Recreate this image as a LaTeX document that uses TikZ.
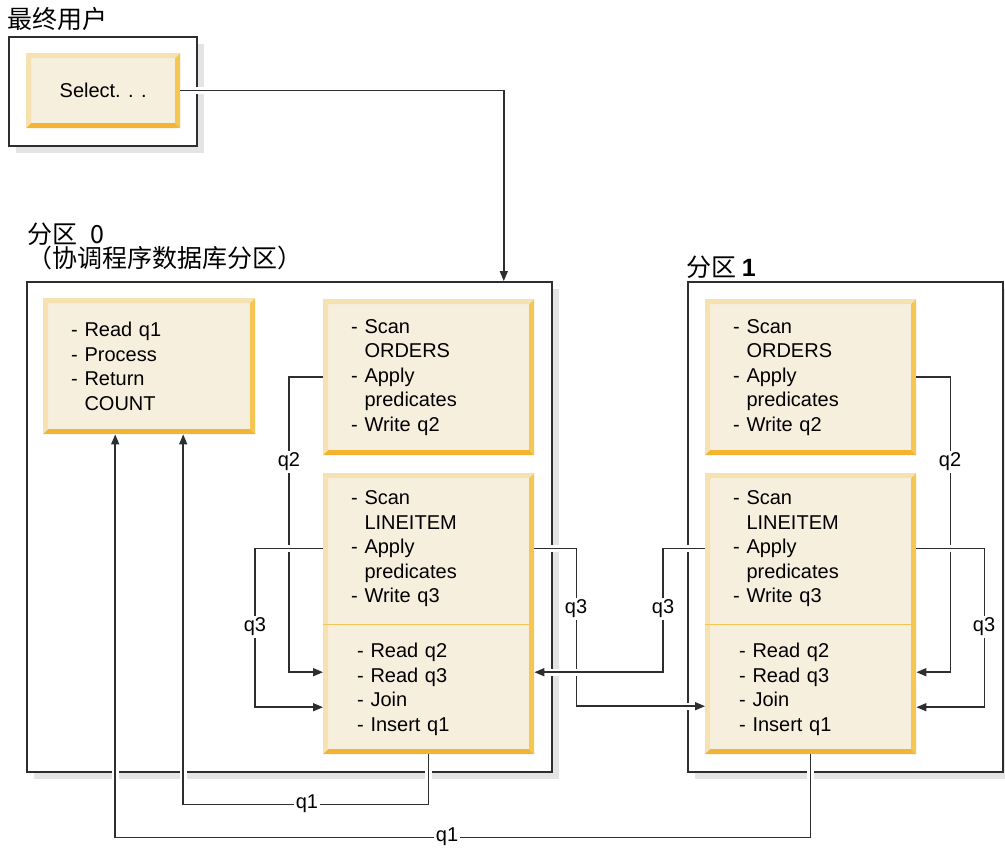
\documentclass[tikz,border=0pt]{standalone}
\usepackage{fontspec}
\setmainfont{Liberation Sans}
\newfontfamily\cjk{Noto Sans CJK SC}
\usepackage{tikz}
\usetikzlibrary{arrows.meta,positioning,shadows}

\definecolor{boxfill}{HTML}{F7EFDE}
\definecolor{bevlight}{HTML}{F6E2B0}
\definecolor{bevright}{HTML}{F5C652}
\definecolor{bevdark}{HTML}{F2B432}
\definecolor{shadowgray}{HTML}{E4E4E4}
\definecolor{linegray}{HTML}{2E2E2E}

\newcommand{\opbevel}{%
  \fill[bevlight] (path picture bounding box.south west) -- (path picture bounding box.north west)
    -- (path picture bounding box.north east) -- ([shift={(-5pt,-5pt)}]path picture bounding box.north east)
    -- ([shift={(5pt,-5pt)}]path picture bounding box.north west) -- ([shift={(5pt,5pt)}]path picture bounding box.south west) -- cycle;
  \fill[bevright] (path picture bounding box.north east) -- (path picture bounding box.south east)
    -- ([shift={(-5pt,5pt)}]path picture bounding box.south east) -- ([shift={(-5pt,-5pt)}]path picture bounding box.north east) -- cycle;
  \fill[bevdark] (path picture bounding box.south west) -- (path picture bounding box.south east)
    -- ([shift={(-5pt,5pt)}]path picture bounding box.south east) -- ([shift={(5pt,5pt)}]path picture bounding box.south west) -- cycle;
}

\begin{document}
\begin{tikzpicture}[
    x=1pt, y=-1pt,
    opbox/.style={anchor=north west, fill=boxfill, inner ysep=0pt, inner xsep=28pt, align=left, path picture={\opbevel}, font=\fontsize{20pt}{24.5pt}\selectfont},
    optext/.style={anchor=north west, inner ysep=0pt, inner xsep=28pt, align=left, font=\fontsize{20pt}{24.5pt}\selectfont},
    partframe/.style={anchor=north west, draw=linegray, line width=1.6pt, fill=white, inner sep=0pt, drop shadow={shadow xshift=7pt, shadow yshift=-7pt, fill=shadowgray, opacity=1}},
    partlabel/.style={anchor=base west, inner sep=0pt, font=\cjk\fontsize{25pt}{25pt}\selectfont},
    conn/.style={draw=linegray, line width=1.5pt, preaction={draw=white, line width=7pt, -}},
    arr/.style={-{Triangle[length=10pt,width=8pt]}},
    qlabel/.style={fill=white, inner sep=2pt, font=\fontsize{20pt}{24pt}\selectfont},
    divider/.style={draw=bevright, line width=1.5pt}
]
\useasboundingbox (0,0) rectangle (1005,847);

% Labels
\node[partlabel] (lblUser) at (7,28) {最终用户};
\node[partlabel] (lblPart0) at (27,243) {分区\hspace{0.55em}0};
\node[partlabel] (lblCoord) at (27,267) {（协调程序数据库分区）};
\node[partlabel] (lblPart1) at (686,276) {分区 {\rmfamily\bfseries 1}};

% Frames
\node[partframe, minimum width=188pt, minimum height=109pt] (frmUser) at (8,36) {};
\node[partframe, minimum width=525pt, minimum height=490pt] (frmP0) at (26,281) {};
\node[partframe, minimum width=315pt, minimum height=490pt] (frmP1) at (687,281) {};

% End user
\node[opbox, minimum width=154pt, minimum height=75pt, inner xsep=0pt, align=center] (opSel) at (26,53) {Select. . .};

% Partition 0
\node[opbox, minimum width=212pt, minimum height=136pt, text width=156pt] (opA0) at (43,298)
  {- Read q1\\- Process\\- Return\\\hphantom{- }COUNT};
\node[opbox, minimum width=211pt, minimum height=156pt, text width=155pt] (opB0) at (323,299)
  {- Scan\\\hphantom{- }ORDERS\\- Apply\\\hphantom{- }predicates\\- Write q2};
\node[opbox, minimum width=211pt, minimum height=281pt] (opC0) at (323,473) {};
\node[optext, minimum width=211pt, minimum height=151pt, text width=155pt] (scanC0) at (323,473)
  {- Scan\\\hphantom{- }LINEITEM\\- Apply\\\hphantom{- }predicates\\- Write q3};
\node[optext, minimum width=211pt, minimum height=130pt, inner xsep=34pt, text width=143pt] (joinC0) at (323,624)
  {- Read q2\\- Read q3\\- Join\\- Insert q1};
\draw[divider] (scanC0.south west) -- (scanC0.south east);

% Partition 1
\node[opbox, minimum width=211pt, minimum height=156pt, text width=155pt] (opB1) at (705,299)
  {- Scan\\\hphantom{- }ORDERS\\- Apply\\\hphantom{- }predicates\\- Write q2};
\node[opbox, minimum width=211pt, minimum height=281pt] (opC1) at (705,473) {};
\node[optext, minimum width=211pt, minimum height=151pt, text width=155pt] (scanC1) at (705,473)
  {- Scan\\\hphantom{- }LINEITEM\\- Apply\\\hphantom{- }predicates\\- Write q3};
\node[optext, minimum width=211pt, minimum height=130pt, inner xsep=34pt, text width=143pt] (joinC1) at (705,624)
  {- Read q2\\- Read q3\\- Join\\- Insert q1};
\draw[divider] (scanC1.south west) -- (scanC1.south east);

% Connectors
\draw[conn, arr] (opSel.east) -| ([xshift=214.5pt]frmP0.north);
\draw[conn, arr] (opB0.west) -- ++(-34,0) |- ([yshift=17pt]joinC0.west);
\draw[conn, arr] (scanC0.west) -- ++(-68,0) |- ([yshift=-18pt]joinC0.west);
\draw[conn, arr] (scanC0.east) -- ++(42,0) |- ([yshift=-17pt]joinC1.west);
\draw[conn, arr] (scanC1.west) -- ++(-42,0) |- ([yshift=17pt]joinC0.east);
\draw[conn, arr] (opB1.east) -- ++(34,0) |- ([yshift=17pt]joinC1.east);
\draw[conn, arr] (scanC1.east) -- ++(68,0) |- ([yshift=-18pt]joinC1.east);
\draw[conn, arr] (opC0.south) -- ++(0,50) -| ([xshift=34pt]opA0.south);
\draw[conn, arr] (opC1.south) -- ++(0,83) -| ([xshift=-34pt]opA0.south);

% Line labels
\node[qlabel] (q2a) at (289,462) {q2};
\node[qlabel] (q3a) at (255,627) {q3};
\node[qlabel] (q3b) at (576,609) {q3};
\node[qlabel] (q3c) at (663,609) {q3};
\node[qlabel] (q2b) at (950,462) {q2};
\node[qlabel] (q3d) at (984,627) {q3};
\node[qlabel] (q1a) at (307,804) {q1};
\node[qlabel] (q1b) at (447,837) {q1};

\end{tikzpicture}
\end{document}
